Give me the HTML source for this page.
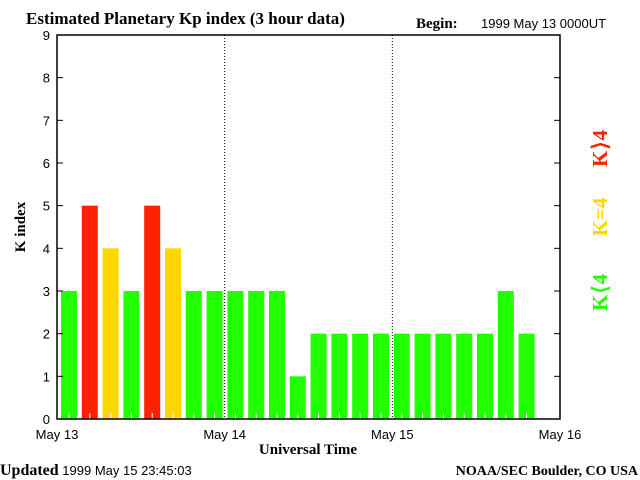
<!DOCTYPE html>
<html><head><meta charset="utf-8"><style>
body{margin:0;background:#fff;}
svg{display:block;}
.s{font-family:"Liberation Sans",sans-serif;font-size:13px;fill:#000;}
.b{font-family:"Liberation Serif",serif;font-weight:bold;fill:#000;}
</style></head><body>
<svg id="c" width="640" height="480">
<text class="b" x="26" y="24" font-size="17">Estimated Planetary Kp index (3 hour data)</text>
<text class="b" x="416" y="28" font-size="15">Begin:</text>
<text class="s" x="481" y="28" font-size="14">1999 May 13 0000UT</text>
<g id="bars"></g>
<g id="axes"></g>
<text class="b" x="25" y="227" font-size="15" transform="rotate(-90 25 227)" text-anchor="middle">K index</text>
<text class="b" x="308" y="454" font-size="15" text-anchor="middle">Universal Time</text>
<text class="s" x="0" y="475" font-size="16"><tspan class="b" font-size="16">Updated</tspan> 1999 May 15 23:45:03</text>
<text class="b" x="638" y="475" font-size="14" text-anchor="end">NOAA/SEC Boulder, CO USA</text>
<text class="b" x="607" y="148" font-size="21" style="fill:#ff2200" letter-spacing="1" text-anchor="middle" transform="rotate(-90 607 148)">K⟩4</text>
<text class="b" x="607" y="217" font-size="21" style="fill:#ffd700" text-anchor="middle" transform="rotate(-90 607 217)">K=4</text>
<text class="b" x="607" y="292" font-size="21" style="fill:#22ff00" letter-spacing="1" text-anchor="middle" transform="rotate(-90 607 292)">K⟨4</text>
</svg>
<script>
const kpValues=[3,5,4,3,5,4,3,3,3,3,3,1,2,2,2,2,2,2,2,2,2,3,2];
const yTicks=[0,1,2,3,4,5,6,7,8,9];
const dayLabels=["May 13","May 14","May 15","May 16"];
const NS="http://www.w3.org/2000/svg";
const L=57,R=560,T=35,B=419;
const dayW=(R-L)/3, slotW=20.8;
const y=v=>B-(B-T)*v/9;
const x=i=>L+4+i*slotW;
const bars=document.getElementById('bars'),axes=document.getElementById('axes');
function mk(p,tag,a){const e=document.createElementNS(NS,tag);for(const k in a)e.setAttribute(k,a[k]);p.appendChild(e);return e;}
kpValues.forEach((v,i)=>{
  const col=v>4?'#ff2200':v==4?'#ffd700':'#22ff00';
  const r=mk(bars,'rect',{x:x(i),y:y(v),width:16,height:B-y(v),fill:col});
  
  
  const t=mk(bars,'line',{x1:x(i)+8,x2:x(i)+8,y1:B-6,y2:B,stroke:'#fff'});
  
  
});
[1,2].forEach(d=>{
  const l=mk(axes,'line',{x1:L+d*dayW,x2:L+d*dayW,y1:T,y2:B,stroke:'#000','stroke-dasharray':'1,2'});
  
  
});
const fr=mk(axes,'rect',{x:L,y:T,width:R-L,height:B-T,fill:'none',stroke:'#000','stroke-width':1.5});


yTicks.forEach(v=>{
  mk(axes,'line',{x1:L,x2:L+6,y1:y(v),y2:y(v),stroke:'#000'});
  mk(axes,'line',{x1:R-6,x2:R,y1:y(v),y2:y(v),stroke:'#000'});
  const t=mk(axes,'text',{x:L-7,y:y(v)+5,'text-anchor':'end',class:'s','font-size':15});
  t.textContent=v;
  
  
});
dayLabels.forEach((s,d)=>{
  const t=mk(axes,'text',{x:L+d*dayW,y:439,'text-anchor':'middle',class:'s'});
  t.textContent=s;
  
  
});
</script>
</body></html>
